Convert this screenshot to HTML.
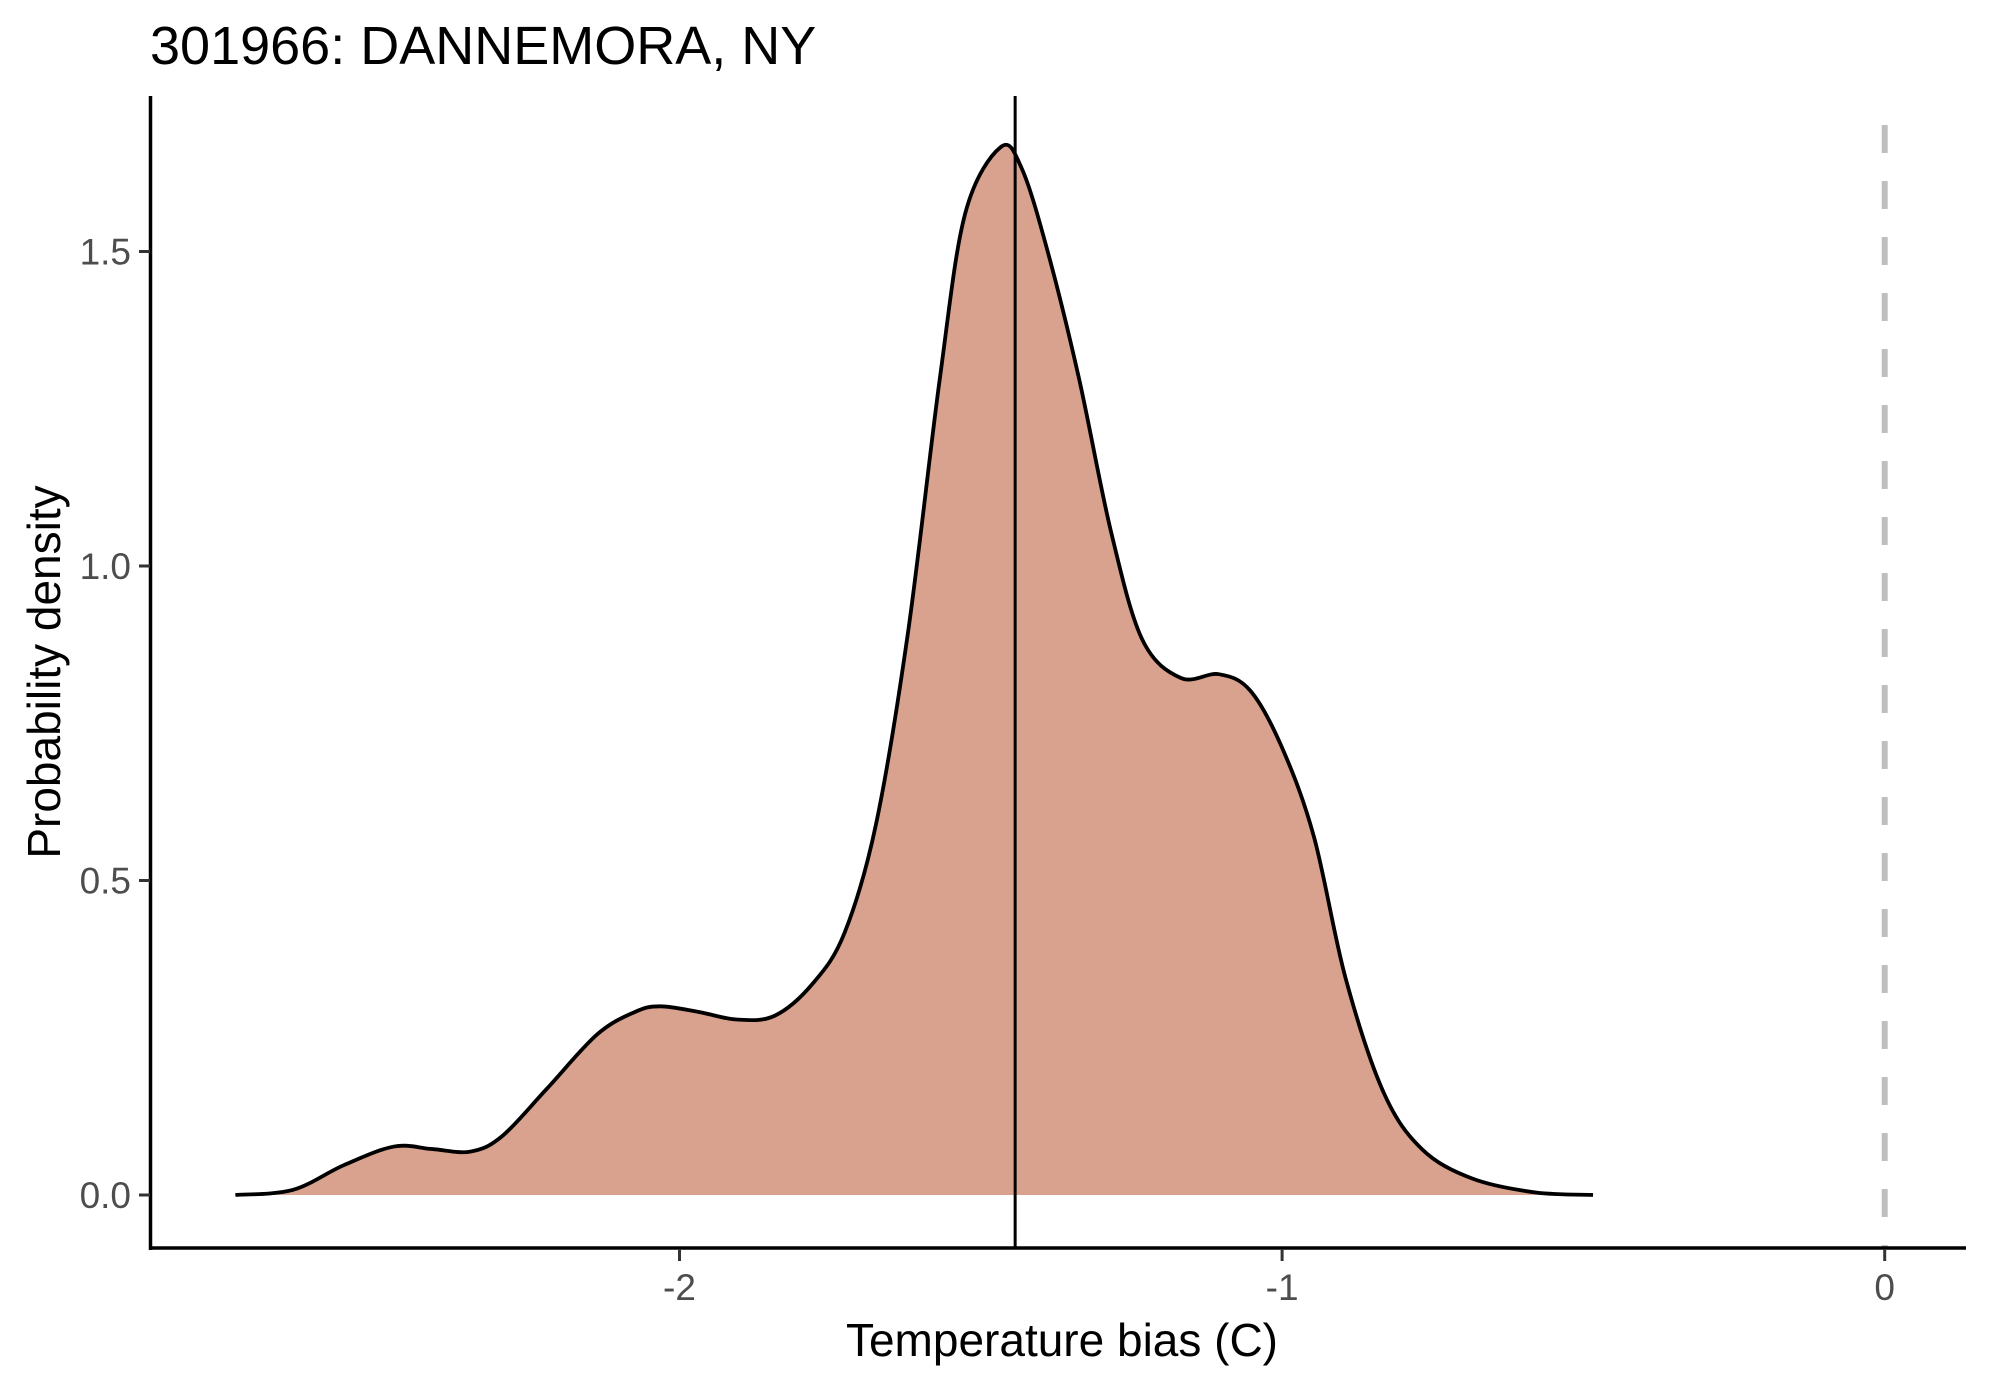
<!DOCTYPE html>
<html><head><meta charset="utf-8">
<style>
html,body{margin:0;padding:0;background:#fff;}
svg{display:block;font-family:"Liberation Sans",sans-serif;}
</style></head>
<body>
<svg id="chart" width="1990" height="1384" viewBox="0 0 1990 1384">
<text x="150" y="64" font-size="54" fill="#000">301966: DANNEMORA, NY</text>
<g id="plot"></g>
<text x="1062" y="1356" font-size="46" text-anchor="middle" fill="#000">Temperature bias (C)</text>
<text transform="translate(60,672) rotate(-90)" font-size="46" text-anchor="middle" fill="#000">Probability density</text>
</svg>
<script>
const xs = [-2.737,-2.642,-2.558,-2.474,-2.41,-2.347,-2.295,-2.221,-2.137,-2.074,-2.032,-1.968,-1.905,-1.842,-1.779,-1.726,-1.674,-1.621,-1.568,-1.526,-1.467,-1.432,-1.389,-1.337,-1.284,-1.232,-1.168,-1.105,-1.053,-1.0,-0.947,-0.895,-0.832,-0.768,-0.684,-0.579,-0.484];
const dens = [0,0.008,0.047,0.077,0.073,0.069,0.093,0.168,0.255,0.291,0.30,0.291,0.279,0.285,0.336,0.417,0.589,0.893,1.298,1.56,1.666,1.632,1.50,1.298,1.055,0.883,0.822,0.828,0.802,0.711,0.569,0.346,0.164,0.073,0.026,0.004,0];
const xTicks = [-2,-1,0];
const xTickLabels = ["-2","-1","0"];
const yTicks = [0,0.5,1,1.5];
const yTickLabels = ["0.0","0.5","1.0","1.5"];
const meanBias = -1.443;
const zeroRef = 0;

const X = v => 679.5 + (v + 2) * 602.6;
const Y = v => 1195 - v * 629;
const NS = "http://www.w3.org/2000/svg";
const plot = document.getElementById('plot');
function mk(tag, attrs){const e=document.createElementNS(NS,tag);for(const k in attrs)e.setAttribute(k,attrs[k]);plot.appendChild(e);return e;}

const pts = xs.map((x,i)=>[X(x),Y(dens[i])]);
let d = `M${pts[0][0]},${pts[0][1]}`;
for(let i=0;i<pts.length-1;i++){
  const p0=pts[Math.max(0,i-1)],p1=pts[i],p2=pts[i+1],p3=pts[Math.min(pts.length-1,i+2)];
  const c1=[p1[0]+(p2[0]-p0[0])/6,p1[1]+(p2[1]-p0[1])/6];
  const c2=[p2[0]-(p3[0]-p1[0])/6,p2[1]-(p3[1]-p1[1])/6];
  d+=` C${c1[0]},${Math.min(c1[1],Y(0))} ${c2[0]},${Math.min(c2[1],Y(0))} ${p2[0]},${p2[1]}`;
}
const area = mk('path',{d:d+` L${pts[pts.length-1][0]},${Y(0)} L${pts[0][0]},${Y(0)} Z`,fill:'#d9a28f',stroke:'none'});


const line = mk('path',{d:d,fill:'none',stroke:'#000',"stroke-width":3.8,"stroke-linejoin":"round"});



const zl = mk('line',{x1:X(zeroRef),x2:X(zeroRef),y1:125,y2:1248,stroke:'#bebebe',"stroke-width":6,"stroke-dasharray":"28,28"});


const ml = mk('line',{x1:X(meanBias),x2:X(meanBias),y1:96,y2:1248,stroke:'#000',"stroke-width":3});



const ya = mk('line',{x1:150.5,x2:150.5,y1:96,y2:1250,stroke:'#000',"stroke-width":3.5});


const xa = mk('line',{x1:149,x2:1966,y1:1248,y2:1248,stroke:'#000',"stroke-width":3.5});



yTicks.forEach((v,i)=>{
  const t = mk('line',{x1:139,x2:150,y1:Y(v),y2:Y(v),stroke:'#333',"stroke-width":3});
  
  
  const l = mk('text',{x:131,y:Y(v)+13,"font-size":37,"text-anchor":"end",fill:'#4d4d4d'});
  l.textContent = yTickLabels[i];
  
  
});
xTicks.forEach((v,i)=>{
  const t = mk('line',{x1:X(v),x2:X(v),y1:1249,y2:1261,stroke:'#333',"stroke-width":3});
  
  
  const l = mk('text',{x:X(v),y:1300,"font-size":37,"text-anchor":"middle",fill:'#4d4d4d'});
  l.textContent = xTickLabels[i];
  
  
});
</script>
</body></html>
